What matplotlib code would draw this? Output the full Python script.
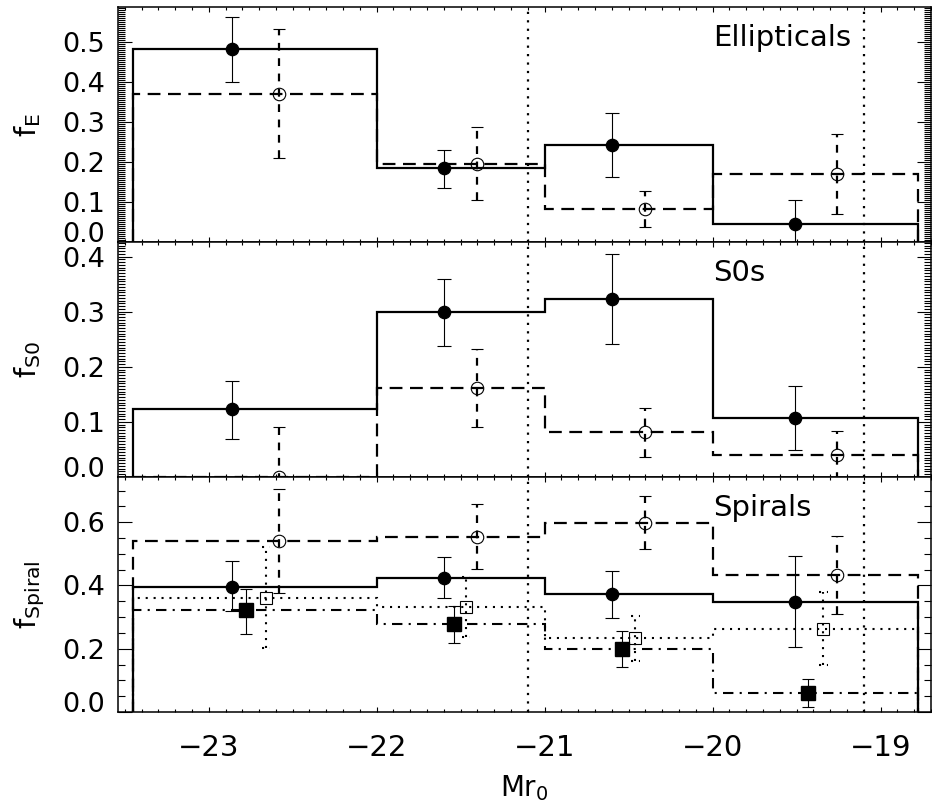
import numpy as np
import matplotlib
matplotlib.use("Agg")
import matplotlib.pyplot as plt
from matplotlib.ticker import MultipleLocator

plt.rcParams['font.family'] = ['DejaVu Sans']
plt.rcParams['mathtext.default'] = 'regular'

# bin edges in Mr_0 (shared by all panels)
edges = [-23.45, -22.0, -21.0, -20.0, -18.78]

# x positions of the plotted points per series
x_solid = [-22.86, -21.60, -20.60, -19.51]
x_dash = [-22.58, -21.40, -20.40, -19.26]
x_dot = [-22.66, -21.47, -20.46, -19.34]
x_dd = [-22.78, -21.54, -20.54, -19.43]

# Ellipticals
e_solid = [0.481, 0.184, 0.242, 0.044]
e_solid_hi = [0.561, 0.229, 0.321, 0.104]
e_solid_lo = [0.400, 0.134, 0.163, -0.02]
e_dash = [0.369, 0.196, 0.082, 0.171]
e_dash_hi = [0.532, 0.288, 0.127, 0.269]
e_dash_lo = [0.209, 0.106, 0.038, 0.071]

# S0s
s0_solid = [0.123, 0.299, 0.323, 0.107]
s0_solid_hi = [0.174, 0.359, 0.404, 0.166]
s0_solid_lo = [0.069, 0.238, 0.242, 0.049]
s0_dash = [0.0, 0.162, 0.082, 0.040]
s0_dash_hi = [0.090, 0.232, 0.126, 0.084]
s0_dash_lo = [-0.09, 0.091, 0.037, -0.005]

# Spirals
sp_solid = [0.396, 0.425, 0.372, 0.348]
sp_solid_hi = [0.476, 0.490, 0.445, 0.493]
sp_solid_lo = [0.319, 0.359, 0.298, 0.205]
sp_dash = [0.541, 0.554, 0.599, 0.434]
sp_dash_hi = [0.706, 0.659, 0.682, 0.557]
sp_dash_lo = [0.375, 0.452, 0.514, 0.309]
sp_dot = [0.361, 0.333, 0.233, 0.262]
sp_dot_hi = [0.522, 0.427, 0.304, 0.378]
sp_dot_lo = [0.201, 0.238, 0.161, 0.148]
sp_dd = [0.321, 0.278, 0.199, 0.061]
sp_dd_hi = [0.388, 0.335, 0.256, 0.105]
sp_dd_lo = [0.247, 0.219, 0.141, 0.015]

mark_lines = [-21.1, -19.1]

DASH = (0, (5.75, 3.4))
DOT = (0, (1, 2.8))
DASHDOT = (0, (5, 3, 1, 3))


def yerr(y, lo, hi):
    y = np.array(y)
    return [y - np.array(lo), np.array(hi) - y]


def solid_series(ax, vals, lo, hi):
    ax.stairs(vals, edges, baseline=0, color='k', lw=1.6)
    ax.errorbar(x_solid, vals, yerr=yerr(vals, lo, hi), fmt='o', ms=8.8,
                mfc='k', mec='k', ecolor='k', elinewidth=0.8, capsize=5,
                capthick=0.8, zorder=5)


def dash_series(ax, vals, lo, hi):
    ax.stairs(vals, edges, baseline=0, color='k', lw=1.6, linestyle=DASH)
    eb = ax.errorbar(x_dash, vals, yerr=yerr(vals, lo, hi), fmt='o', ms=9,
                     mfc='none', mec='k', mew=0.8, ecolor='k',
                     elinewidth=1.6, capsize=4, capthick=1.8, zorder=5)
    eb[2][0].set_linestyle((0, (3.5, 3.4)))


def dot_series(ax, vals, lo, hi):
    ax.stairs(vals, edges, baseline=0, color='k', lw=1.5, linestyle=DOT)
    ax.errorbar(x_dot, vals, fmt='s', ms=8.5, mfc='none', mec='k', mew=0.8,
                zorder=5)
    ax.vlines(x_dot, lo, hi, color='k', lw=1.5, linestyle=DOT)
    for xx, l, h in zip(x_dot, lo, hi):
        ax.hlines([l, h], xx - 0.025, xx + 0.025, color='k', lw=1.5,
                  linestyle=DOT)


def dd_series(ax, vals, lo, hi):
    ax.stairs(vals, edges, baseline=0, color='k', lw=1.5, linestyle=DASHDOT)
    ax.errorbar(x_dd, vals, yerr=yerr(vals, lo, hi), fmt='s', ms=9.5,
                mfc='k', mec='k', ecolor='k', elinewidth=0.8, capsize=4,
                capthick=0.8, zorder=5)


fig = plt.figure(figsize=(9.32, 8.11), dpi=100)
W, H = 932, 811
left_px, right_px = 118, 931
panel_h = 235
tops = [7, 242, 477]

axes = []
for t in tops:
    ax = fig.add_axes([left_px / W, 1 - (t + panel_h) / H,
                       (right_px - left_px) / W, panel_h / H])
    axes.append(ax)

ax_e, ax_s0, ax_sp = axes

solid_series(ax_e, e_solid, e_solid_lo, e_solid_hi)
dash_series(ax_e, e_dash, e_dash_lo, e_dash_hi)

solid_series(ax_s0, s0_solid, s0_solid_lo, s0_solid_hi)
dash_series(ax_s0, s0_dash, s0_dash_lo, s0_dash_hi)

solid_series(ax_sp, sp_solid, sp_solid_lo, sp_solid_hi)
dash_series(ax_sp, sp_dash, sp_dash_lo, sp_dash_hi)
dot_series(ax_sp, sp_dot, sp_dot_lo, sp_dot_hi)
dd_series(ax_sp, sp_dd, sp_dd_lo, sp_dd_hi)

ylims = [0.587, 0.4265, 0.743]
yticks = [np.arange(0, 0.51, 0.1), np.arange(0, 0.41, 0.1),
          np.arange(0, 0.61, 0.2)]
yminor = [0.005, 0.005, 0.05]
ylabels = [r'f$_{E}$', r'f$_{S0}$', r'f$_{Spiral}$']
names = ['Ellipticals', 'S0s', 'Spirals']

for ax, top, yt, ym, yl, nm in zip(axes, ylims, yticks, yminor, ylabels, names):
    for xv in mark_lines:
        ax.axvline(xv, color='k', lw=1.6, linestyle=(0, (1, 2.8)))
    ax.set_xlim(-23.54, -18.70)
    ax.set_ylim(0, top)
    ax.set_yticks(yt, ['%.1f' % v for v in yt])
    ax.yaxis.set_minor_locator(MultipleLocator(ym))
    ax.set_xticks([-23, -22, -21, -20, -19])
    ax.xaxis.set_minor_locator(MultipleLocator(0.1))
    ax.tick_params(which='both', direction='in', top=True, right=True,
                   width=0.8)
    ax.tick_params(axis='x', which='major', length=3.8)
    ax.tick_params(axis='x', which='minor', length=2.2)
    ax.tick_params(axis='y', which='major', length=10, pad=9, labelsize=19.5)
    ax.tick_params(axis='y', which='minor', length=5)
    for s in ax.spines.values():
        s.set_linewidth(1.1)
    ax.get_yticklabels()[0].set_va('baseline')
    ax.set_ylabel(yl, fontsize=21)
    ax.yaxis.label.set_va('top')
    ax.yaxis.set_label_coords(-0.130, 0.5)
    ax.text(-20.0, 0.87, nm, transform=ax.get_xaxis_transform(),
            fontsize=21, ha='left', va='center')

for ax in axes[:2]:
    ax.tick_params(axis='x', labelbottom=False)

ax_sp.tick_params(axis='x', which='major', labelsize=21, pad=16)
ax_sp.set_xlabel(r'Mr$_{0}$', fontsize=20)
ax_sp.xaxis.set_label_coords(0.5, -0.26)

fig.savefig('out.png', dpi=100)
